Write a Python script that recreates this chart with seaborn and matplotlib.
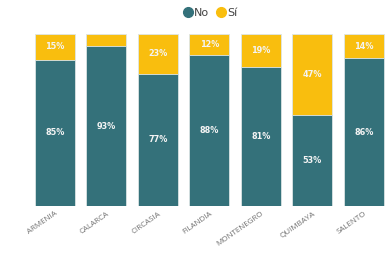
import pandas as pd
import matplotlib.pyplot as plt
import seaborn as sns
from matplotlib.lines import Line2D

# Datos
municipios = ['ARMENIA', 'CALARCA', 'CIRCASIA', 'FILANDIA', 'MONTENEGRO', 'QUIMBAYA', 'SALENTO']
pct_no = [85, 93, 77, 88, 81, 53, 86]
pct_si = [15, 7, 23, 12, 19, 47, 14]

color_no = '#34717A'
color_si = '#F9BE0E'

df = pd.DataFrame({'Municipio': municipios, 'No': pct_no, 'Si': pct_si})
df['Total'] = df['No'] + df['Si']

sns.set_theme(style='white')
plt.rcParams['font.family'] = ['DejaVu Sans']

fig = plt.figure(figsize=(3.85, 2.57), dpi=100)
ax = fig.add_axes([29 / 385, 1 - 206 / 257, 356 / 385, 172 / 257])

sns.barplot(data=df, x='Municipio', y='Total', color=color_si, width=0.78,
            saturation=1, edgecolor='#dde6e8', linewidth=0.6, ax=ax)
sns.barplot(data=df, x='Municipio', y='No', color=color_no, width=0.78,
            saturation=1, edgecolor='#dde6e8', linewidth=0.6, ax=ax)

# Etiquetas de porcentaje
for i, (n, s) in enumerate(zip(pct_no, pct_si)):
    ax.text(i, n / 2, f'{n}%', ha='center', va='center', color='#f4f4f4',
            fontsize=6.5, fontweight='bold', fontstretch='condensed')
    if s >= 10:
        ax.text(i, n + s / 2, f'{s}%', ha='center', va='center', color='#f4f4f4',
                fontsize=6.5, fontweight='bold', fontstretch='condensed')

ax.set_xlim(-0.5, 6.41)
ax.set_ylim(0, 100)
ax.set_xlabel('')
ax.set_ylabel('')
ax.set_yticks([])
ax.tick_params(axis='x', length=0, pad=3)
ax.set_xticks(range(len(municipios)))
ax.set_xticklabels(municipios, rotation=35, ha='right', rotation_mode='anchor',
                   fontsize=5.8, color='#707070', family='Open Sans')
for spine in ax.spines.values():
    spine.set_visible(False)

# Leyenda
handles = [Line2D([], [], marker='o', linestyle='', markersize=7, color=color_no),
           Line2D([], [], marker='o', linestyle='', markersize=7, color=color_si)]
fig.legend(handles, ['No', 'Sí'], loc='center', bbox_to_anchor=(210 / 385, 1 - 13 / 257),
           ncol=2, frameon=False, fontsize=8, handletextpad=0.05, columnspacing=0.6,
           labelcolor='#444444', handlelength=1)

fig.savefig('out.png', dpi=100)
